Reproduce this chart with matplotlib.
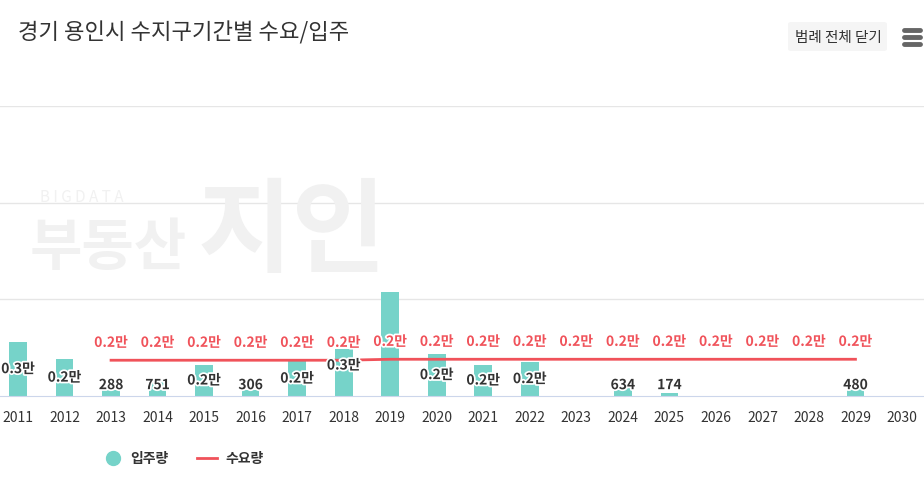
import matplotlib.pyplot as plt
import matplotlib.patheffects as pe
from matplotlib.patches import FancyBboxPatch
from matplotlib.lines import Line2D

plt.rcParams['font.family'] = ['Noto Sans CJK KR', 'DejaVu Sans']

# 데이터
years = list(range(2011, 2031))
move_in = [2780, 1900, 288, 751, 1600, 306, 1800, 2450, 5400, 2160,
           1600, 1750, 0, 634, 174, 0, 0, 0, 480, 0]
demand_years = list(range(2013, 2030))
demand = [1850] * 6 + [1900] * 11
move_in_labels = ['0.3만', '0.2만', '288', '751', '0.2만', '306', '0.2만', '0.3만', '', '0.2만',
                  '0.2만', '0.2만', '', '634', '174', '', '', '', '480', '']
demand_labels = ['0.2만'] * len(demand_years)

bar_color = '#76d3c9'
line_color = '#f0525a'
min_len = 150  # 작은 막대 최소 높이

fig = plt.figure(figsize=(9.24, 4.81), dpi=100)
W, H = 924, 481

# 플롯 영역: 위쪽 그리드 y=107px, 기준선 y=397px
ax = fig.add_axes([0, (H - 397) / H, 1, (397 - 107) / H])
ax.set_xlim(2011 - 18 / 46.5, 2030 + 22 / 46.5)
ax.set_ylim(0, 15000)

# 워터마크
wm = '#f1f1f1'
fig.text(40 / W, 1 - 198 / H, 'B I G D A T A', fontsize=11, color=wm, va='center', ha='left')
fig.text(30 / W, 1 - 248 / H, '부동산', fontsize=41, color=wm, va='center', ha='left', fontweight='bold')
fig.text(198 / W, 1 - 234 / H, '지인', fontsize=74, color=wm, va='center', ha='left', fontweight='bold')

for yv in [5000, 10000, 15000]:
    ax.axhline(yv, color='#e6e6e6', lw=1, zorder=0)

heights = [max(v, min_len) if v > 0 else 0 for v in move_in]
ax.bar(years, heights, width=0.38, color=bar_color, zorder=2)
ax.plot(demand_years, demand, color=line_color, lw=2, zorder=3)

stroke = [pe.withStroke(linewidth=2.5, foreground='white')]
for x, v, lab in zip(years, move_in, move_in_labels):
    if not lab:
        continue
    if v >= 1000:
        y = v / 2
        if x == 2018:
            y = v / 2 + 350
    else:
        y = 560
    ax.text(x, y, lab, ha='center', va='center', fontsize=10, fontweight='bold',
            color='#333333', path_effects=stroke, zorder=4)

for x, v, lab in zip(demand_years, demand, demand_labels):
    ax.text(x, v + 900, lab, ha='center', va='center', fontsize=10, fontweight='bold',
            color=line_color, path_effects=stroke, zorder=5)

for s in ['top', 'right', 'left']:
    ax.spines[s].set_visible(False)
ax.spines['bottom'].set_color('#ccd6eb')
ax.set_yticks([])
ax.set_xticks(years)
ax.set_xticklabels([str(y) for y in years], fontsize=10, color='#333333')
ax.tick_params(axis='x', length=0, pad=10)

# 제목
fig.text(18 / W, 1 - 33 / H, '경기 용인시 수지구기간별 수요/입주', fontsize=16,
         fontweight='medium', color='#333333', va='center', ha='left')

# 범례 전체 닫기 버튼
btn = FancyBboxPatch((788 / W, 1 - 52 / H), 99 / W, 29 / H,
                     boxstyle='round,pad=0,rounding_size=0.004', transform=fig.transFigure,
                     facecolor='#f5f5f5', edgecolor='none')
fig.patches.append(btn)
fig.text(838 / W, 1 - 38 / H, '범례 전체 닫기', fontsize=10.5, fontweight='medium',
         color='#333333', va='center', ha='center')
for yy in [31, 38, 45]:
    fig.add_artist(Line2D([904 / W, 920 / W], [1 - yy / H, 1 - yy / H], color='#666666', lw=3.5,
                          transform=fig.transFigure, solid_capstyle='round'))

# 범례
fig.add_artist(Line2D([113 / W], [1 - 459 / H], marker='o', markersize=10, color=bar_color,
                      transform=fig.transFigure, linestyle='none'))
fig.text(130 / W, 1 - 459 / H, '입주량', fontsize=10, fontweight='bold', color='#333333', va='center')
fig.add_artist(Line2D([197 / W, 217 / W], [1 - 459 / H, 1 - 459 / H], color=line_color, lw=2,
                      transform=fig.transFigure))
fig.text(225 / W, 1 - 459 / H, '수요량', fontsize=10, fontweight='bold', color='#333333', va='center')

fig.savefig('out.png', dpi=100)
